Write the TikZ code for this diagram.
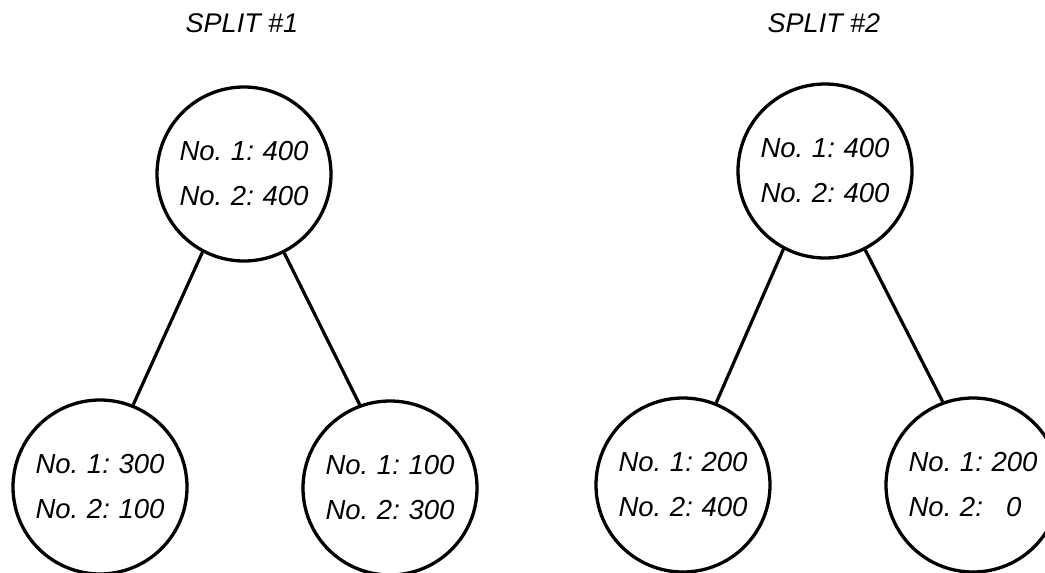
\documentclass[tikz,border=0pt]{standalone}
\usepackage{fontspec}
\setmainfont{Liberation Sans}
\newcommand\mytextfont{\fontsize{27.5}{45}\selectfont\itshape\spaceskip=0.22em\relax}
\begin{document}
\begin{tikzpicture}[x=1pt,y=-1pt,
  cnode/.style={circle,draw,line width=3.3pt,minimum size=174pt,inner sep=0pt,
    font=\mytextfont,align=left},
  link/.style={line width=3.2pt},
  title/.style={font=\fontsize{27}{30}\selectfont\itshape,anchor=base}]
\useasboundingbox (0,0) rectangle (1045,573);
\clip (0,0) rectangle (1045,573);
\node[title] (t1) at (242,32) {SPLIT \#1};
\node[title] (t2) at (824,32) {SPLIT \#2};
\node[cnode] (r1) at (244,174) {No. 1: 400\\No. 2: 400};
\node[cnode] (a1) at (100,487) {No. 1: 300\\No. 2: 100};
\node[cnode] (b1) at (390,488) {No. 1: 100\\No. 2: 300};
\node[cnode] (r2) at (825,171) {No. 1: 400\\No. 2: 400};
\node[cnode] (a2) at (683,485) {No. 1: 200\\No. 2: 400};
\node[cnode] (b2) at (973,485) {No. 1: 200\\No. 2:\hspace{0.84em}0};
\draw[link] (r1.-118) -- (a1.68);
\draw[link] (r1.-63) -- (b1.110);
\draw[link] (r2.-118) -- (a2.68);
\draw[link] (r2.-63) -- (b2.110);
\end{tikzpicture}
\end{document}
